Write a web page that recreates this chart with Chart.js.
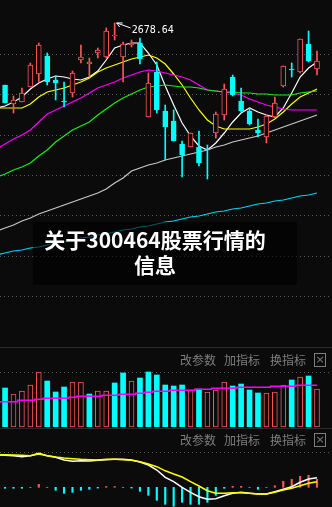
<!DOCTYPE html>
<html><head><meta charset="utf-8">
<script src="https://cdn.jsdelivr.net/npm/chart.js@4/dist/chart.umd.min.js"></script>
<style>
html,body{margin:0;padding:0;background:#0b0b0b;width:332px;height:507px;overflow:hidden;}
#wrap{position:relative;width:332px;height:507px;}
canvas{position:absolute;left:0;display:block;}
.sep{position:absolute;left:0;width:332px;height:1px;background:#2c2c2c;}
.hdr{position:absolute;font-family:"Noto Sans CJK SC",sans-serif;font-size:12px;line-height:14px;color:#7e7e7e;white-space:nowrap;}
.xbox{position:absolute;width:10px;height:12px;border:1px solid #7e7e7e;color:#7e7e7e;font:11px/12px "DejaVu Sans",sans-serif;text-align:center;}
#titleBox{position:absolute;left:33px;top:222px;width:264px;height:63px;background:rgba(0,0,0,0.6);}
#title{position:absolute;left:33px;top:227px;width:244px;text-align:center;color:#fff;font-family:"Noto Sans CJK SC",sans-serif;font-weight:700;font-size:21px;line-height:25px;text-shadow:0 0 2px #000;}
</style></head>
<body><div id="wrap">
<canvas id="main" width="332" height="347" style="top:0"></canvas>
<div class="sep" style="top:347px"></div>
<canvas id="vol" width="332" height="80" style="top:348px"></canvas>
<div class="sep" style="top:428px"></div>
<canvas id="macd" width="332" height="78" style="top:429px"></canvas>
<div class="hdr" style="left:180px;top:353px">改参数</div>
<div class="hdr" style="left:224px;top:353px">加指标</div>
<div class="hdr" style="left:270px;top:353px">换指标</div>
<div class="xbox" style="left:314px;top:353px">×</div>
<div class="hdr" style="left:180px;top:433px">改参数</div>
<div class="hdr" style="left:224px;top:433px">加指标</div>
<div class="hdr" style="left:270px;top:433px">换指标</div>
<div class="xbox" style="left:314px;top:433px">×</div>
<div id="titleBox"></div>
<div id="title">关于300464股票行情的<br>信息</div>
</div>
<script>
// ---- candles (day 0..37) ----
const opens  = [2616.6,2597.6,2599.6,2614.6,2627.6,2645.6,2621.6,2600.6,2608.6,2641.6,2637.6,2648.6,2644.6,2665.6,2644.6,2656.6,2658.6,2584.6,2629.6,2590.6,2580.6,2557.6,2554.6,2554.6,2552.6,2568.6,2586.6,2624.6,2600.6,2590.6,2571.6,2564.6,2584.6,2615.6,2632.6,2629.6,2657.6,2632.6];
const highs  = [2616.6,2605.6,2613.6,2638.6,2658.6,2648.6,2625.6,2619.6,2630.6,2656.6,2643.6,2653.6,2673.6,2678.64,2659.6,2661.6,2663.6,2628.6,2639.6,2596.6,2591.6,2560.6,2568.6,2570.6,2556.6,2589.6,2617.6,2626.6,2613.6,2593.6,2582.6,2586.6,2604.6,2635.6,2638.6,2662.6,2670.6,2650.6];
const lows   = [2598.6,2588.6,2599.6,2614.6,2619.6,2616.6,2601.6,2594.6,2604.6,2638.6,2624.6,2643.6,2643.6,2661.6,2619.6,2654.6,2637.6,2584.6,2588.6,2541.6,2560.6,2524.6,2554.6,2535.6,2522.6,2563.6,2581.6,2605.6,2589.6,2576.6,2564.6,2558.6,2584.6,2614.6,2624.6,2628.6,2639.6,2626.6];
const closes = [2598.6,2601.6,2608.6,2636.6,2656.6,2619.6,2618.6,2599.6,2628.6,2644.6,2639.6,2651.6,2670.6,2666.6,2657.6,2658.6,2642.6,2618.6,2591.6,2574.6,2560.6,2546.6,2568.6,2538.6,2551.6,2587.6,2612.6,2606.6,2590.6,2577.6,2568.6,2585.6,2598.6,2635.6,2631.6,2662.6,2640.6,2640.6];
// ---- moving averages (day -1..37) ----
const ma5   = [2593.6,2595.6,2599.6,2604.6,2612.6,2618.6,2622.6,2625.6,2624.6,2622.6,2621.6,2624.6,2630.6,2641.6,2653.6,2656.6,2658.6,2658.6,2648.6,2636.6,2615.6,2596.6,2578.6,2565.6,2555.6,2551.6,2558.6,2568.6,2579.6,2588.6,2593.6,2589.6,2586.6,2584.6,2593.6,2608.6,2624.6,2633.6,2639.6];
const ma10  = [2593.6,2593.6,2593.6,2593.6,2597.6,2604.6,2609.6,2611.6,2613.6,2616.6,2619.6,2623.6,2629.6,2633.6,2636.6,2639.6,2642.6,2644.6,2646.6,2643.6,2637.6,2627.6,2616.6,2603.6,2591.6,2581.6,2575.6,2572.6,2572.6,2572.6,2572.6,2574.6,2577.6,2582.6,2589.6,2597.6,2604.6,2608.6,2612.6];
const ma20  = [2552.6,2557.6,2562.6,2566.6,2571.6,2579.6,2587.6,2591.6,2595.6,2599.6,2603.6,2608.6,2613.6,2616.6,2619.6,2623.6,2626.6,2629.6,2631.6,2630.6,2628.6,2626.6,2624.6,2621.6,2616.6,2611.6,2610.6,2609.6,2608.6,2606.6,2602.6,2599.6,2596.6,2594.6,2592.6,2591.6,2591.6,2591.6,2591.6];
const ma30  = [2524.6,2527.6,2531.6,2534.6,2538.6,2545.6,2551.6,2559.6,2565.6,2571.6,2575.6,2579.6,2586.6,2592.6,2598.6,2603.6,2607.6,2611.6,2614.6,2615.6,2616.6,2615.6,2614.6,2614.6,2613.6,2611.6,2610.6,2609.6,2609.6,2608.6,2608.6,2607.6,2607.6,2606.6,2606.6,2606.6,2608.6,2609.6,2610.6];
const ma60  = [2470.6,2473.6,2476.6,2480.6,2483.6,2487.6,2490.6,2493.6,2496.6,2499.6,2502.6,2505.6,2508.6,2512.6,2518.6,2523.6,2530.6,2533.6,2536.6,2538.6,2541.6,2543.6,2545.6,2547.6,2549.6,2551.6,2554.6,2556.6,2559.6,2561.6,2563.6,2565.6,2568.6,2571.6,2574.6,2577.6,2580.6,2583.6,2586.6];
const ma120 = [2446.6,2448.6,2450.6,2451.6,2453.6,2454.6,2456.6,2458.6,2459.6,2461.6,2463.6,2464.6,2466.6,2467.6,2469.6,2471.6,2472.6,2474.6,2475.6,2477.6,2479.6,2480.6,2482.6,2484.6,2485.6,2487.6,2489.6,2490.6,2492.6,2493.6,2495.6,2497.6,2498.6,2500.6,2501.6,2503.6,2505.6,2506.6,2508.6];
const priceGrid = [2647.6,2607.3,2566.9,2526.6,2486.3,2445.9,2405.6];
// ---- volume (day 0..37), MA (day -1..37) ----
const volumes = [39,33,36,42,55,46,35,40,45,45,33,36,36,44,54,46,49,55,52,42,41,42,37,38,35,37,45,41,43,37,34,34,35,42,47,50,51,38];
const volUp   = [0,1,1,1,1,0,0,0,1,1,0,1,1,0,0,1,0,0,0,0,0,0,1,0,1,1,1,0,0,0,0,1,1,1,0,1,0,1];
const volMA   = [25.3,25.3,25.3,26.7,26.7,27.7,28.7,28.7,28.7,29.7,30.7,30.7,30.7,31.7,31.7,32.7,32.7,33.7,34.7,35.7,35.7,36.7,36.7,36.7,37.7,37.7,38.7,38.7,38.7,39.7,39.7,39.7,39.7,40.7,40.7,40.7,41.7,41.7,41.7];
const volGrid = [55];
// ---- MACD: DIF/DEA (day -1..37), histogram (day 0..37) ----
const dif  = [32.3,32,31.6,30.6,31.6,34,31.6,30,27.3,26,26.6,26.3,27,27.6,28,28,27.3,25.3,22.3,17.3,10,5.6,0,-5,-9.4,-12,-11.4,-8.4,-6,-5,-6,-6.7,-6.7,-4.4,-2,0.6,5,8.3,9.6];
const dea  = [32.6,32.6,32.3,32,31.6,33.3,31.6,30.3,29.3,28.6,28,27.6,27.3,28,28,27.6,27,25.6,23.3,20.6,16.5,13.3,10.3,5.6,1.3,-3.4,-6,-6,-5.4,-5.4,-6,-6.7,-6.7,-5,-2.7,-1,1.6,4,5.6];
const hist = [-1,-1,-1,0,3,0,-3,-6,-5,-3,-2,-0.8,0.8,0.8,0,-0.8,-4,-8,-13,-17,-19,-15,-17,-17,-15,-8,-1,1,1,0,-2,0,1.5,6,8,11,12,8];
const macdGrid = [35];

const RED = '#ff5656', CYAN = '#00ffff', BG = '#0b0b0b';
const days = opens.map((_, i) => i);

const dottedGrid = {
  id: 'dottedGrid',
  beforeDatasetsDraw(chart, args, opts) {
    const {ctx, scales} = chart;
    ctx.save();
    ctx.strokeStyle = '#5c5c5c'; ctx.lineWidth = 1; ctx.setLineDash([1, 3]);
    (opts.values || []).forEach(v => {
      const y = Math.round(scales.y.getPixelForValue(v)) + 0.5;
      ctx.beginPath(); ctx.moveTo(0, y); ctx.lineTo(chart.width, y); ctx.stroke();
    });
    ctx.restore();
  }
};
const highLabel = {
  id: 'highLabel',
  afterDatasetsDraw(chart) {
    const {ctx, scales} = chart;
    let idx = 0; highs.forEach((h, i) => { if (h > highs[idx]) idx = i; });
    const x = scales.x.getPixelForValue(idx) + 2, y = scales.y.getPixelForValue(highs[idx]);
    ctx.save();
    ctx.strokeStyle = '#ffffff'; ctx.lineWidth = 1;
    ctx.beginPath(); ctx.moveTo(x, y); ctx.lineTo(x + 14, y + 5);
    ctx.moveTo(x, y); ctx.lineTo(x + 6, y);
    ctx.moveTo(x, y); ctx.lineTo(x + 3, y + 4); ctx.stroke();
    ctx.fillStyle = '#ffffff'; ctx.font = '10px "DejaVu Sans Mono", monospace';
    ctx.textBaseline = 'alphabetic';
    ctx.fillText(highs[idx].toFixed(2), x + 15, y + 10);
    ctx.restore();
  }
};

function opts(ymin, ymax, grid, padBottom) {
  return {
    responsive: false, animation: false, events: [],
    layout: {padding: {left: 0, right: 0, top: 0, bottom: padBottom || 0}},
    plugins: {legend: {display: false}, tooltip: {enabled: false}, dottedGrid: {values: grid}},
    scales: {
      x: {type: 'linear', min: -0.6, max: 38.78, offset: false, display: false},
      y: {type: 'linear', min: ymin, max: ymax, display: false}
    }
  };
}
const maLine = (arr, color, w) => ({
  type: 'line', data: arr.map((v, i) => ({x: i - 1, y: v})), borderColor: color,
  borderWidth: w, pointRadius: 0, tension: 0, order: 3
});

new Chart(document.getElementById('main'), {
  type: 'bar',
  data: {datasets: [
    maLine(ma120, '#00d8ee', 1.2),
    maLine(ma60, '#c8c8c8', 1.2),
    maLine(ma30, '#18f018', 1.2),
    maLine(ma20, '#ff00ff', 1.2),
    maLine(ma10, '#ffff00', 1.2),
    maLine(ma5, '#ffffff', 1.2),
    {type: 'bar', order: 2, grouped: false, barThickness: 1,
     data: days.map(i => ({x: i, y: [lows[i], highs[i]]})),
     backgroundColor: days.map(i => closes[i] >= opens[i] ? RED : CYAN)},
    {type: 'bar', order: 1, grouped: false, barThickness: 5, minBarLength: 1,
     borderSkipped: false, borderWidth: 1,
     data: days.map(i => ({x: i, y: [opens[i], closes[i]]})),
     backgroundColor: days.map(i => closes[i] >= opens[i] ? BG : CYAN),
     borderColor: days.map(i => closes[i] >= opens[i] ? RED : CYAN)}
  ]},
  options: opts(2354.6, 2701.6, priceGrid),
  plugins: [dottedGrid, highLabel]
});

new Chart(document.getElementById('vol'), {
  type: 'bar',
  data: {datasets: [
    {type: 'line', order: 0, data: volMA.map((v, i) => ({x: i - 1, y: v})),
     borderColor: '#ff00ff', borderWidth: 1.5, pointRadius: 0, stepped: 'middle'},
    {type: 'bar', order: 1, grouped: false, barThickness: 5, borderSkipped: false,
     data: days.map(i => ({x: i, y: volumes[i]})),
     backgroundColor: days.map(i => volUp[i] ? BG : CYAN),
     borderColor: days.map(i => volUp[i] ? RED : CYAN),
     borderWidth: days.map(i => volUp[i] ? 1 : 0)}
  ]},
  options: opts(0, 79, volGrid, 1),
  plugins: [dottedGrid]
});

new Chart(document.getElementById('macd'), {
  type: 'bar',
  data: {datasets: [
    {type: 'line', order: 0, data: dea.map((v, i) => ({x: i - 1, y: v})),
     borderColor: '#ffff00', borderWidth: 1.5, pointRadius: 0, tension: 0},
    {type: 'line', order: 0, data: dif.map((v, i) => ({x: i - 1, y: v})),
     borderColor: '#ffffff', borderWidth: 1.5, pointRadius: 0, tension: 0},
    {type: 'bar', order: 1, grouped: false, barThickness: 1.5,
     data: days.map(i => ({x: i, y: hist[i]})),
     backgroundColor: days.map(i => hist[i] > 0 ? RED : CYAN)}
  ]},
  options: opts(-19.7, 58.3, macdGrid),
  plugins: [dottedGrid]
});
</script>
</body></html>
